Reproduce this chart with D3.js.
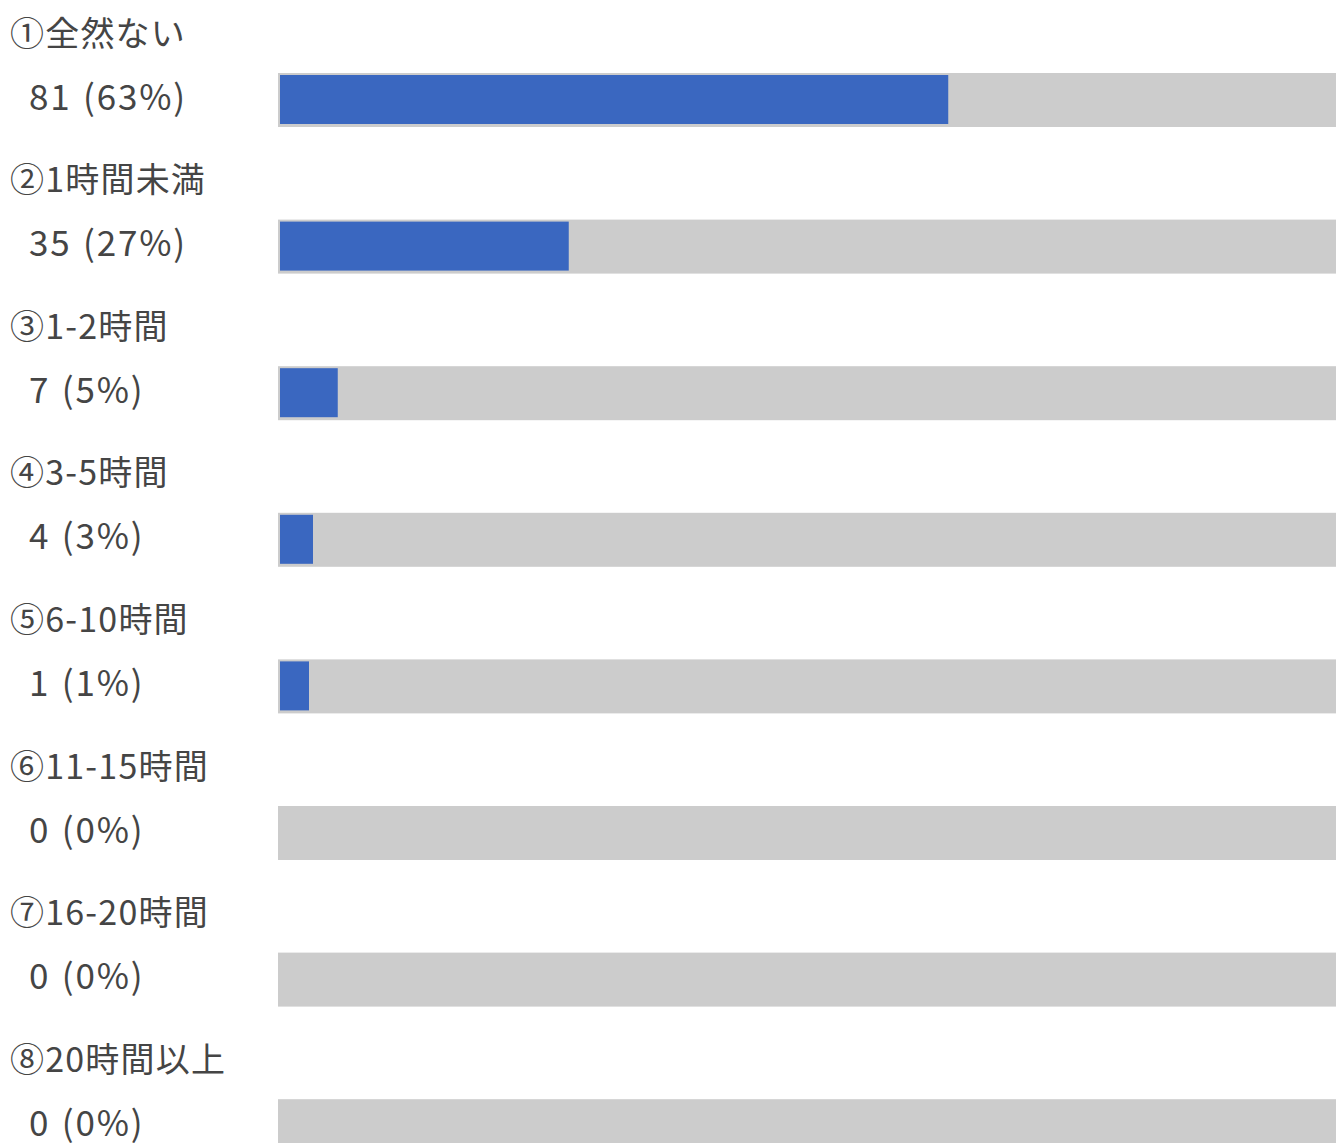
<!DOCTYPE html>
<html>
<head>
<meta charset="utf-8">
<script src="https://cdn.jsdelivr.net/npm/d3@7"></script>
<style>
  html, body { margin: 0; padding: 0; background: #fff; }
  svg { display: block; }
</style>
</head>
<body>
<script>
const categories = ["①全然ない", "②1時間未満", "③1-2時間", "④3-5時間", "⑤6-10時間", "⑥11-15時間", "⑦16-20時間", "⑧20時間以上"];
const counts = [81, 35, 7, 4, 1, 0, 0, 0];
const percentLabels = ["63%", "27%", "5%", "3%", "1%", "0%", "0%", "0%"];

const W = 1336, H = 1143;
const rowStep = 146.6;
const barLeft = 278, barH = 54, barTop0 = 73;
const total = d3.sum(counts);

const svg = d3.select("body").append("svg").attr("width", W).attr("height", H);

const x = d3.scaleLinear().domain([0, total]).range([0, W - barLeft - 2]);
const y = d3.scaleLinear().domain([0, 1]).range([0, rowStep]);

const font = "'Noto Sans CJK JP', 'Noto Sans', sans-serif";

const rows = svg.selectAll("g.row").data(categories).join("g")
  .attr("class", "row")
  .attr("transform", (d, i) => `translate(0,${y(i)})`);

rows.append("text")
  .attr("x", 10).attr("y", 31)
  .attr("dominant-baseline", "central")
  .attr("font-family", font).attr("font-size", 34)
  .attr("letter-spacing", 1.2)
  .attr("fill", "#454545")
  .text(d => d);

rows.append("text")
  .attr("x", 29).attr("y", 94)
  .attr("dominant-baseline", "central")
  .attr("font-family", font).attr("font-size", 35)
  .attr("letter-spacing", 1.8)
  .attr("word-spacing", 2)
  .attr("fill", "#454545")
  .text((d, i) => `${counts[i]} (${percentLabels[i]})`);

rows.append("rect")
  .attr("x", barLeft).attr("y", barTop0)
  .attr("width", W - barLeft).attr("height", barH)
  .attr("fill", "#cccccc");

rows.filter((d, i) => counts[i] > 0).append("rect")
  .attr("x", barLeft + 2).attr("y", barTop0 + 2)
  .attr("width", d => Math.max(29, x(counts[categories.indexOf(d)])))
  .attr("height", barH - 5)
  .attr("fill", "#3a67c0");
</script>
</body>
</html>
